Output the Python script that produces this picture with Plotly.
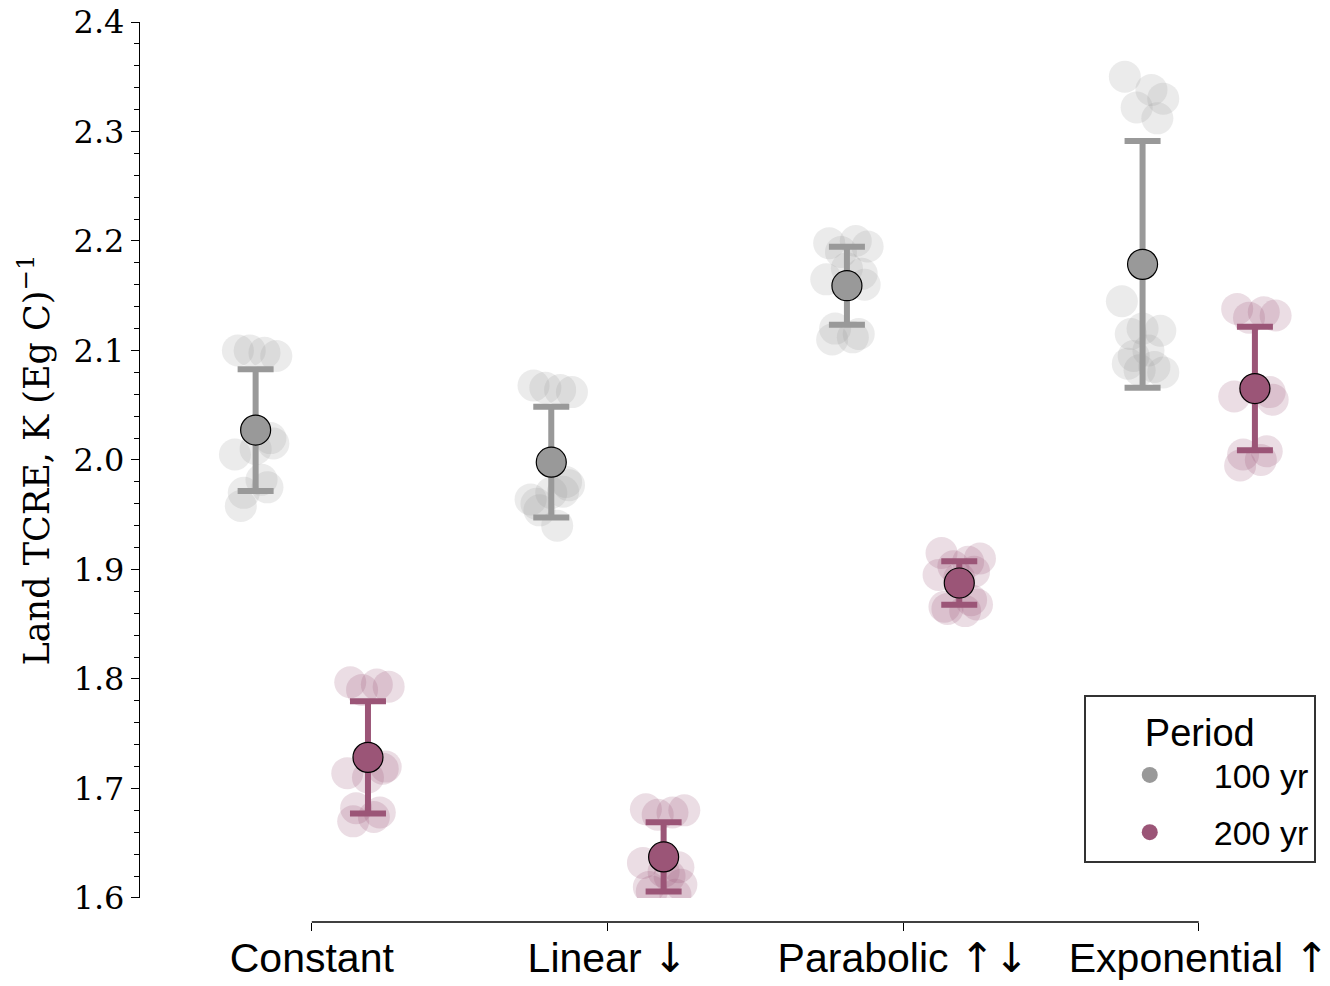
import plotly.graph_objects as go
import numpy as np

# Land TCRE samples (K per Eg C) for each emission-pathway shape and period
ARROW = "<span style='font-family:DejaVu Sans'>{}</span>"
CATEGORIES = ["Constant", "Linear " + ARROW.format("↓"), "Parabolic " + ARROW.format("↑↓"),
              "Exponential " + ARROW.format("↑")]
PERIODS = ["100 yr", "200 yr"]

constant_100 = [2.100, 2.098, 2.095, 2.100, 2.020, 2.005, 2.010, 2.015, 1.970, 1.982, 1.958, 1.975]
constant_200 = [1.797, 1.795, 1.793, 1.790, 1.718, 1.714, 1.710, 1.720, 1.682, 1.674, 1.670, 1.678]
linear_100 = [2.068, 2.064, 2.062, 2.066, 1.980, 1.964, 1.970, 1.977, 1.954, 1.940, 1.960, 1.971]
linear_200 = [1.681, 1.678, 1.680, 1.676, 1.628, 1.632, 1.624, 1.612, 1.606, 1.620, 1.610, 1.603]
parabolic_100 = [2.198, 2.200, 2.195, 2.190, 2.170, 2.165, 2.175, 2.160, 2.120, 2.112, 2.110, 2.115]
parabolic_200 = [1.915, 1.907, 1.910, 1.903, 1.898, 1.895, 1.892, 1.868, 1.864, 1.862, 1.866, 1.872]
exponential_100 = [2.350, 2.338, 2.330, 2.322, 2.312, 2.145, 2.120, 2.118, 2.115, 2.100,
                   2.088, 2.085, 2.082, 2.080, 2.095]
exponential_200 = [2.138, 2.135, 2.132, 2.130, 2.062, 2.058, 2.065, 2.055, 2.005, 2.000, 1.995, 2.008]

samples = {
    "100 yr": [constant_100, linear_100, parabolic_100, exponential_100],
    "200 yr": [constant_200, linear_200, parabolic_200, exponential_200],
}

# horizontal spread of the individual samples within a strip
JITTER = [-0.06, 0.03, 0.07, -0.02, 0.05, -0.07, 0.0, 0.06, -0.04, 0.02, -0.05, 0.04, -0.01, 0.07, -0.03]

COLORS = {"100 yr": "#999999", "200 yr": "#9b5577"}
DODGE = {"100 yr": -0.19, "200 yr": 0.19}

SANS = "Liberation Sans"
SERIF = "DejaVu Serif"

fig = go.Figure()

# individual samples, drawn first so the summaries sit on top
for period in PERIODS:
    xs, ys = [], []
    for ci, vals in enumerate(samples[period]):
        for k, v in enumerate(vals):
            xs.append(ci + DODGE[period] + JITTER[k % len(JITTER)])
            ys.append(v)
    fig.add_trace(go.Scatter(
        x=xs, y=ys, mode="markers", showlegend=False, hoverinfo="skip",
        marker=dict(size=32, color=COLORS[period], opacity=0.2, line=dict(width=0)),
    ))

# mean ± standard deviation per strip
for ci in range(len(CATEGORIES)):
    for period in PERIODS:
        vals = np.array(samples[period][ci])
        fig.add_trace(go.Scatter(
            x=[ci + DODGE[period]], y=[vals.mean()], mode="markers", showlegend=False,
            marker=dict(size=30, color=COLORS[period], line=dict(color="black", width=1.2)),
            error_y=dict(type="data", array=[vals.std(ddof=1)], color=COLORS[period],
                         thickness=6, width=18),
        ))

# legend entries
for period in PERIODS:
    fig.add_trace(go.Scatter(
        x=[None], y=[None], mode="markers", name=period, legendgroup=period,
        marker=dict(size=22, color=COLORS[period]),
    ))

# trimmed bottom spine running between the outer category ticks
fig.add_shape(type="line", xref="x", yref="paper", x0=0, x1=len(CATEGORIES) - 1, y0=0, y1=0,
              line=dict(color="black", width=1.3), layer="above")

fig.update_layout(
    width=1330, height=986,
    margin=dict(l=139, r=13, t=22, b=64, autoexpand=False),
    plot_bgcolor="white", paper_bgcolor="white",
    font=dict(family=SANS, size=34, color="black"),
    xaxis=dict(
        domain=[0.0212, 1], range=[-0.5, 3.4], anchor="free", position=0, automargin=False,
        tickvals=list(range(len(CATEGORIES))), ticktext=CATEGORIES,
        tickfont=dict(family=SANS, size=41), ticklabeloverflow="allow", ticklabelstandoff=-8,
        ticks="outside", ticklen=8, tickwidth=1.3, tickcolor="black",
        showline=False, showgrid=False, zeroline=False,
    ),
    yaxis=dict(
        domain=[0.0267, 1], range=[1.6, 2.4], anchor="free", position=0, automargin=False,
        dtick=0.1, tick0=1.6, tickformat=".1f",
        tickfont=dict(family=SERIF, size=32),
        ticks="outside", ticklen=8, tickwidth=1.3, tickcolor="black",
        minor=dict(dtick=0.02, ticks="outside", ticklen=5, tickwidth=1, tickcolor="black"),
        showline=True, linecolor="black", linewidth=1.3,
        showgrid=False, zeroline=False,
        title=dict(text="Land TCRE, K (Eg C)<sup>−1</sup>", standoff=12,
                   font=dict(family=SERIF, size=35)),
    ),
    legend=dict(
        x=0.802, y=0.2523, xanchor="left", yanchor="top",
        bordercolor="#333333", borderwidth=2, bgcolor="white",
        font=dict(family=SANS, size=34),
        title=dict(text="Period", side="top center", font=dict(family=SANS, size=38)),
        itemwidth=118, tracegroupgap=10,
    ),
)

fig.write_html("out.html")
